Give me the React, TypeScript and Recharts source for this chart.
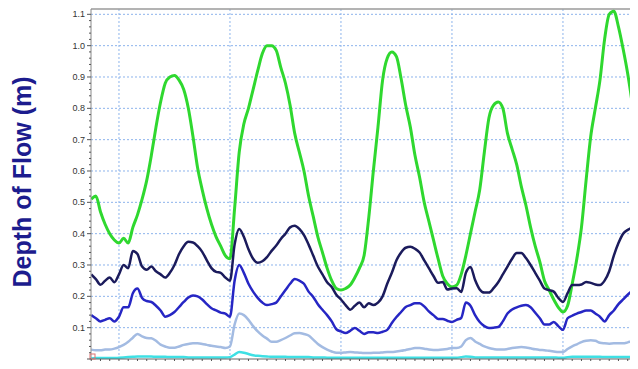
import React from 'react'
import { LineChart, Line, XAxis, YAxis, CartesianGrid, ReferenceLine, ReferenceDot } from 'recharts'

// half-monthly samples, Oct 1992 onward (decimal years)
const START = 1992.75
const TIME = Array.from({ length: 119 }, (_, i) => START + i / 24)

const GREEN = [
  0.51, 0.52, 0.47, 0.43, 0.40, 0.38, 0.37, 0.385, 0.37, 0.42,
  0.46, 0.51, 0.57, 0.65, 0.74, 0.82, 0.88, 0.90, 0.905, 0.89,
  0.86, 0.80, 0.71, 0.61, 0.54, 0.48, 0.43, 0.39, 0.36, 0.33,
  0.32, 0.48, 0.66, 0.75, 0.80, 0.86, 0.92, 0.975, 1.0, 1.0,
  0.985, 0.93, 0.88, 0.81, 0.72, 0.66, 0.60, 0.52, 0.455, 0.39,
  0.34, 0.29, 0.25, 0.225, 0.22, 0.225, 0.236, 0.26, 0.29, 0.33,
  0.45, 0.60, 0.74, 0.89, 0.96, 0.98, 0.965, 0.895, 0.81, 0.74,
  0.65, 0.58, 0.50, 0.44, 0.38, 0.32, 0.265, 0.24, 0.23, 0.235,
  0.27, 0.33, 0.40, 0.47, 0.54, 0.66, 0.77, 0.81, 0.82, 0.80,
  0.72, 0.67, 0.62, 0.55, 0.49, 0.42, 0.36, 0.31, 0.25, 0.22,
  0.19, 0.165, 0.15, 0.17, 0.24, 0.32, 0.42, 0.57, 0.71, 0.80,
  0.89, 1.02, 1.10, 1.11, 1.06, 0.99, 0.91, 0.81, 0.67,
]

const NAVY = [
  0.27, 0.255, 0.237, 0.25, 0.26, 0.245, 0.27, 0.30, 0.29, 0.345,
  0.335, 0.295, 0.285, 0.295, 0.28, 0.27, 0.26, 0.275, 0.30, 0.335,
  0.36, 0.374, 0.372, 0.36, 0.342, 0.315, 0.29, 0.278, 0.275, 0.26,
  0.25, 0.365, 0.415, 0.39, 0.35, 0.32, 0.307, 0.312, 0.325, 0.345,
  0.362, 0.383, 0.40, 0.42, 0.425, 0.415, 0.395, 0.365, 0.33, 0.295,
  0.27, 0.245, 0.23, 0.205, 0.19, 0.172, 0.157, 0.17, 0.18, 0.165,
  0.178, 0.172, 0.18, 0.20, 0.24, 0.275, 0.315, 0.34, 0.355, 0.358,
  0.352, 0.34, 0.315, 0.29, 0.265, 0.243, 0.246, 0.222, 0.225, 0.226,
  0.214, 0.275, 0.294, 0.252, 0.222, 0.212, 0.212, 0.226, 0.245, 0.27,
  0.295, 0.32, 0.338, 0.338, 0.322, 0.30, 0.275, 0.25, 0.225, 0.22,
  0.215, 0.195, 0.182, 0.21, 0.236, 0.236, 0.238, 0.246, 0.243, 0.238,
  0.236, 0.25, 0.28, 0.33, 0.37, 0.40, 0.412, 0.418, 0.408,
]

const BLUE = [
  0.14, 0.13, 0.12, 0.125, 0.13, 0.12, 0.135, 0.165, 0.165, 0.21,
  0.225, 0.195, 0.185, 0.182, 0.17, 0.155, 0.135, 0.14, 0.15, 0.166,
  0.182, 0.196, 0.203, 0.20, 0.19, 0.175, 0.162, 0.155, 0.148, 0.145,
  0.135, 0.25, 0.30, 0.275, 0.24, 0.215, 0.195, 0.18, 0.172, 0.175,
  0.18, 0.20, 0.22, 0.24, 0.255, 0.25, 0.24, 0.215, 0.198, 0.175,
  0.157, 0.14, 0.12, 0.095, 0.088, 0.083, 0.09, 0.099, 0.09, 0.08,
  0.085, 0.085, 0.083, 0.087, 0.093, 0.115, 0.134, 0.15, 0.166, 0.172,
  0.178, 0.178, 0.168, 0.152, 0.14, 0.128, 0.128, 0.122, 0.118, 0.125,
  0.131, 0.18, 0.17, 0.14, 0.118, 0.105, 0.099, 0.1, 0.102, 0.12,
  0.145, 0.158, 0.165, 0.17, 0.172, 0.165, 0.148, 0.13, 0.11, 0.11,
  0.118, 0.105, 0.093, 0.13, 0.138, 0.145, 0.15, 0.155, 0.155, 0.145,
  0.135, 0.12, 0.14, 0.155, 0.175, 0.19, 0.205, 0.218, 0.226,
]

const LIGHT = [
  0.03, 0.028, 0.028, 0.03, 0.03, 0.033, 0.038, 0.045, 0.055, 0.068,
  0.08, 0.072, 0.067, 0.066, 0.058, 0.046, 0.04, 0.036, 0.036, 0.04,
  0.045, 0.048, 0.05, 0.05, 0.048, 0.045, 0.042, 0.04, 0.038, 0.035,
  0.04, 0.11, 0.145, 0.14, 0.125, 0.105, 0.088, 0.075, 0.065, 0.055,
  0.055, 0.06, 0.067, 0.075, 0.082, 0.083, 0.08, 0.075, 0.062, 0.048,
  0.038, 0.03, 0.024, 0.02, 0.02, 0.021, 0.022, 0.021, 0.02, 0.019,
  0.019, 0.02, 0.02, 0.021, 0.022, 0.022, 0.024, 0.026, 0.029, 0.032,
  0.035, 0.035, 0.033, 0.03, 0.029, 0.029, 0.03, 0.032, 0.035, 0.035,
  0.04, 0.06, 0.067, 0.056, 0.048, 0.04, 0.035, 0.032, 0.03, 0.03,
  0.032, 0.035, 0.037, 0.038, 0.037, 0.034, 0.031, 0.029, 0.028, 0.026,
  0.024, 0.022, 0.022, 0.032, 0.04, 0.047, 0.054, 0.058, 0.06, 0.058,
  0.052, 0.05, 0.049, 0.05, 0.05, 0.05, 0.053, 0.057, 0.06,
]

const CYAN = [
  0.002, 0.003, 0.003, 0.003, 0.003, 0.003, 0.004, 0.005, 0.006, 0.007,
  0.008, 0.008, 0.008, 0.008, 0.007, 0.007, 0.007, 0.006, 0.006, 0.006,
  0.006, 0.005, 0.005, 0.005, 0.005, 0.005, 0.005, 0.005, 0.005, 0.005,
  0.006, 0.014, 0.022, 0.02, 0.016, 0.012, 0.01, 0.009, 0.008, 0.007,
  0.007, 0.007, 0.007, 0.006, 0.006, 0.006, 0.006, 0.006, 0.005, 0.005,
  0.005, 0.004, 0.004, 0.004, 0.004, 0.004, 0.004, 0.004, 0.004, 0.004,
  0.004, 0.004, 0.004, 0.004, 0.004, 0.004, 0.004, 0.004, 0.004, 0.004,
  0.004, 0.004, 0.004, 0.004, 0.004, 0.004, 0.004, 0.004, 0.004, 0.004,
  0.006, 0.008, 0.007, 0.005, 0.005, 0.005, 0.005, 0.005, 0.005, 0.005,
  0.005, 0.005, 0.005, 0.005, 0.005, 0.005, 0.005, 0.005, 0.005, 0.005,
  0.005, 0.004, 0.004, 0.006, 0.007, 0.007, 0.007, 0.007, 0.007, 0.007,
  0.007, 0.006, 0.006, 0.006, 0.006, 0.006, 0.006, 0.006, 0.006,
]

const YEARS = [1993, 1994, 1995, 1996, 1997]
const DEPTH_GRID = [0.1, 0.2, 0.3, 0.4, 0.5, 0.6, 0.7, 0.8, 0.9, 1.0, 1.1]

const X_MIN = 1992.748
const X_MAX = 1997.676
const Y_MAX = 1.117

// minor ticks: every 0.02 m on the depth axis, every month on the time axis
const Y_TICKS = Array.from({ length: 56 }, (_, i) => (i * 2) / 100)
const X_TICKS = Array.from({ length: 60 }, (_, m) => START + m / 12)

const data = TIME.map((t, i) => ({
  t,
  green: GREEN[i],
  navy: NAVY[i],
  blue: BLUE[i],
  light: LIGHT[i],
  cyan: CYAN[i],
}))

const FONT = 'Arial, "Liberation Sans", sans-serif'

function DepthTick({ x, y, payload }: { x: number; y: number; payload: { value: number } }) {
  const h = Math.round(payload.value * 100)
  const major = h % 10 === 0
  return (
    <g>
      <line x1={x - (major ? 4 : 2)} x2={x} y1={y} y2={y} stroke="#555" strokeWidth={1} />
      {major && h > 0 && (
        <text x={x - 6} y={y} dy={3} textAnchor="end" fontSize={9} fill="#333" fontFamily={FONT}>
          {(h / 100).toFixed(1)}
        </text>
      )}
    </g>
  )
}

function YearTick({ x, y, payload }: { x: number; y: number; payload: { value: number } }) {
  const m = Math.round((payload.value - START) * 12)
  const boundary = m % 12 === 3
  const mid = m % 12 === 9
  return (
    <g>
      <line x1={x} x2={x} y1={y} y2={y + (boundary ? 5 : 2)} stroke="#555" strokeWidth={1} />
      {mid && (
        <text x={x} y={y + 13} textAnchor="middle" fontSize={9} fill="#333" fontFamily={FONT}>
          {Math.round(payload.value - 0.5)}
        </text>
      )}
    </g>
  )
}

function AxisTitle() {
  return (
    <text
      x={31}
      y={182}
      transform="rotate(-90 31 182)"
      textAnchor="middle"
      fontSize={25}
      fontWeight="bold"
      fill="#1c1c8e"
      fontFamily={FONT}
    >
      Depth of Flow (m)
    </text>
  )
}

export default function App() {
  return (
    <div style={{ margin: -8, width: 638, height: 369, overflow: 'hidden', background: '#fff' }}>
      <LineChart width={638} height={380} data={data} margin={{ top: 9, right: 0, bottom: 0, left: 0 }}>
        <CartesianGrid
          stroke="#8db4ec"
          strokeDasharray="2 2"
          horizontalValues={DEPTH_GRID}
          verticalValues={YEARS}
        />
        <XAxis
          dataKey="t"
          type="number"
          domain={[X_MIN, X_MAX]}
          allowDataOverflow
          ticks={X_TICKS}
          interval={0}
          tick={YearTick}
          tickLine={false}
          tickSize={0}
          tickMargin={0}
          height={21}
          axisLine={{ stroke: '#666' }}
        />
        <YAxis
          type="number"
          domain={[0, Y_MAX]}
          allowDataOverflow
          ticks={Y_TICKS}
          interval={0}
          tick={DepthTick}
          tickLine={false}
          tickSize={0}
          tickMargin={0}
          width={91}
          axisLine={{ stroke: '#888' }}
          label={<AxisTitle />}
        />
        <ReferenceLine y={Y_MAX} stroke="#9a9a9a" strokeWidth={1.5} />
        <Line type="monotone" dataKey="green" stroke="#2fd82f" strokeWidth={3} dot={false} isAnimationActive={false} />
        <Line type="monotone" dataKey="navy" stroke="#1b1b5c" strokeWidth={2.5} dot={false} isAnimationActive={false} />
        <Line type="monotone" dataKey="blue" stroke="#2626c4" strokeWidth={2.5} dot={false} isAnimationActive={false} />
        <Line type="monotone" dataKey="light" stroke="#a3bbe2" strokeWidth={2.5} dot={false} isAnimationActive={false} />
        <Line type="monotone" dataKey="cyan" stroke="#3fe0e4" strokeWidth={2.5} dot={false} isAnimationActive={false} />
        <ReferenceDot
          x={X_MIN}
          y={0}
          ifOverflow="visible"
          shape={(p: { cx: number; cy: number }) => (
            <rect x={p.cx - 1} y={p.cy - 5} width={5} height={5} fill="none" stroke="#e07070" strokeWidth={1} />
          )}
        />
      </LineChart>
    </div>
  )
}
